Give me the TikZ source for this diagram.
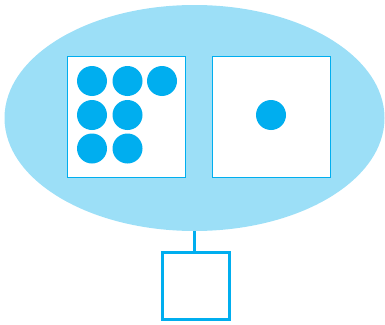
\documentclass[tikz,border=0pt]{standalone}
\usetikzlibrary{shapes.geometric}
\begin{document}
\begin{tikzpicture}[x=1pt,y=-1pt,
  cloud/.style={fill=lightblue,draw=none},
  panel/.style={draw=cyanblue,fill=white,line width=0.9pt,minimum width=118pt,minimum height=121pt,inner sep=0pt},
  dot/.style={circle,fill=cyanblue,minimum size=30pt,inner sep=0pt},
  leaf/.style={draw=cyanblue,line width=3.2pt,minimum size=67pt,inner sep=0pt},
  link/.style={draw=cyanblue,line width=3pt}]
\definecolor{lightblue}{HTML}{9CDFF7}
\definecolor{cyanblue}{HTML}{00AEEF}
\useasboundingbox (0,0) rectangle (385,324);
\node[ellipse,cloud,minimum width=380pt,minimum height=226pt,inner sep=0pt] (e) at (194.5,118) {};
\node[panel] (p1) at (126,116.5) {};
\node[panel] (p2) at (271.5,116.5) {};
\node[dot] (d1) at (92,81) {};
\node[dot] (d2) at (127.5,81) {};
\node[dot] (d3) at (162,81) {};
\node[dot] (d4) at (92,115) {};
\node[dot] (d5) at (127.5,115) {};
\node[dot] (d6) at (92,148.5) {};
\node[dot] (d7) at (127.5,148.5) {};
\node[dot] (d8) at (271,115) {};
\node[leaf] (s) at (196,286) {};
\draw[link] (e.south) -- (e.south |- s.north);
\end{tikzpicture}
\end{document}
